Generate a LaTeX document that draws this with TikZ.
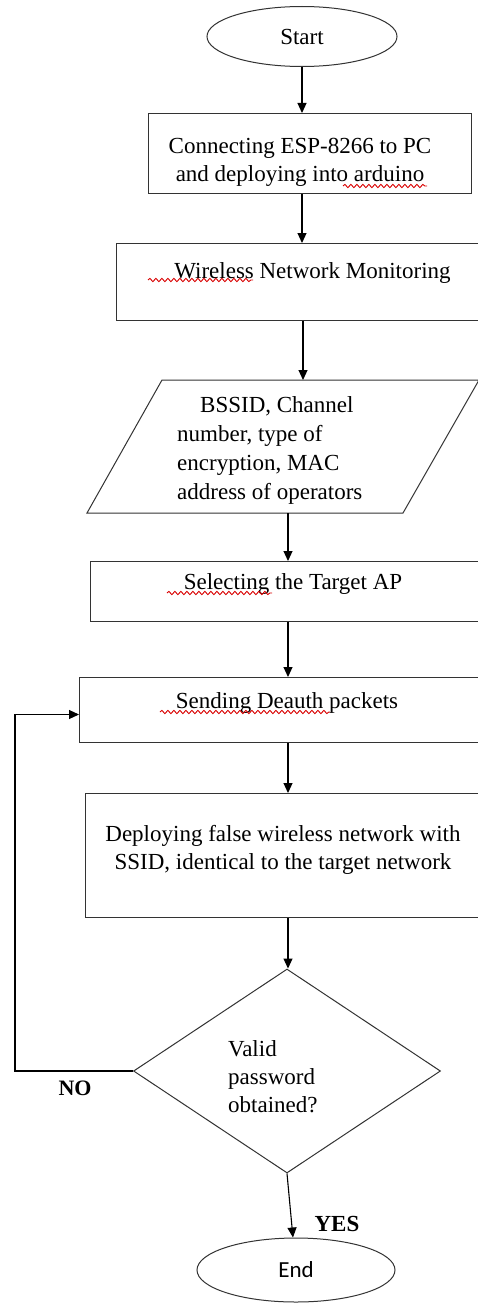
\documentclass[tikz,border=0pt]{standalone}
\usepackage{fontspec}
\setmainfont{Liberation Serif}
\newfontfamily\calibfont{Carlito}
\usetikzlibrary{shapes.geometric,arrows.meta,decorations.pathmorphing}
\begin{document}
\begin{tikzpicture}[x=1pt,y=-1pt,
  every node/.style={font=\fontsize{23}{28}\selectfont},
  box/.style={draw=black!80,line width=1pt,rectangle,inner sep=0pt,anchor=north west},
  ell/.style={draw=black!80,line width=1pt,ellipse,inner sep=0pt},
  txt/.style={inner sep=0pt,align=center},
  arr/.style={-{Triangle[length=10pt,width=9pt]},line width=1.1pt,black},
  lbl/.style={inner sep=0pt,font=\fontsize{22}{26}\selectfont\bfseries},
  squig/.style={red!85!black,line width=0.9pt,decorate,decoration={snake,segment length=6pt,amplitude=1.6pt}}]
\useasboundingbox (0,0) rectangle (478,1303);
\clip (0,0) rectangle (478,1303);
\fill[white] (0,0) rectangle (478,1303);

% start / end
\node[ell,minimum width=190pt,minimum height=60pt] (start) at (302,36.5) {Start};
\node[ell,minimum width=198pt,minimum height=64pt,font=\calibfont\fontsize{23}{28}\selectfont] (endn) at (296,1270) {End};

% boxes
\node[box,minimum width=323pt,minimum height=80pt] (b1) at (148,113) {};
\node[txt] (t1) at (300,162.5) {Connecting ESP-8266 to PC\\and deploying into arduino};

\node[box,minimum width=370pt,minimum height=77pt] (b2) at (116,243) {};
\node[txt] (t2) at (312.5,273) {Wireless Network Monitoring};

% parallelogram (data)
\coordinate (ptl) at (162,380);
\coordinate (ptr) at (479,380);
\coordinate (pbr) at (403,513);
\coordinate (pbl) at (87,513);
\coordinate (ptop) at (303,380);
\coordinate (pbot) at (288,513);
\draw[draw=black!80,line width=1pt] (ptl) -- (ptr) -- (pbr) -- (pbl) -- cycle;
\node[inner sep=0pt,align=left,anchor=west,font=\fontsize{23}{29}\selectfont] (tp) at (177,450)
  {\hspace*{23pt}BSSID, Channel\\number, type of\\encryption, MAC\\address of operators};

\node[box,minimum width=390pt,minimum height=60pt] (b3) at (90,561) {};
\node[txt] (t3) at (293,584) {Selecting the Target AP};

\node[box,minimum width=401pt,minimum height=65pt] (b4) at (79,677) {};
\node[txt] (t4) at (287,703) {Sending Deauth packets};

\node[box,minimum width=395pt,minimum height=124pt] (b5) at (85,793) {};
\node[txt] (t5) at (283,849.5) {Deploying false wireless network with\\SSID, identical to the target network};

\node[draw=black!80,line width=1pt,diamond,minimum width=307pt,minimum height=204pt,inner sep=0pt] (dia) at (287,1071) {};
\node[inner sep=0pt,align=left,anchor=west] (td) at (228,1076.5) {Valid\\password\\obtained?};

% spell-check squiggles
\draw[squig] (343,186) -- (427,186);
\draw[squig] (148,280) -- (253,280);
\draw[squig] (167,593) -- (272,593);
\draw[squig] (160,712) -- (330,712);

% connectors
\draw[arr] (start.south) -- (start.south |- b1.north);
\draw[arr] (b1.south -| start.south) -- (start.south |- b2.north);
\draw[arr] (b2.south -| ptop) -- (ptop);
\draw[arr] (pbot) -- (pbot |- b3.north);
\draw[arr] (pbot |- b3.south) -- (pbot |- b4.north);
\draw[arr] (pbot |- b4.south) -- (pbot |- b5.north);
\draw[arr] (pbot |- b5.south) -- (pbot |- dia.north);
\draw[arr] (dia.south) -- (endn);
\coordinate (fb) at (15,0);
\draw[arr] (dia.west) -- (dia.west -| fb) |- ([yshift=-4.5pt]b4.west);

\node[lbl] (no) at (75,1088) {NO};
\node[lbl,font=\fontsize{23}{27}\selectfont\bfseries] (yes) at (337,1224) {YES};
\end{tikzpicture}
\end{document}
